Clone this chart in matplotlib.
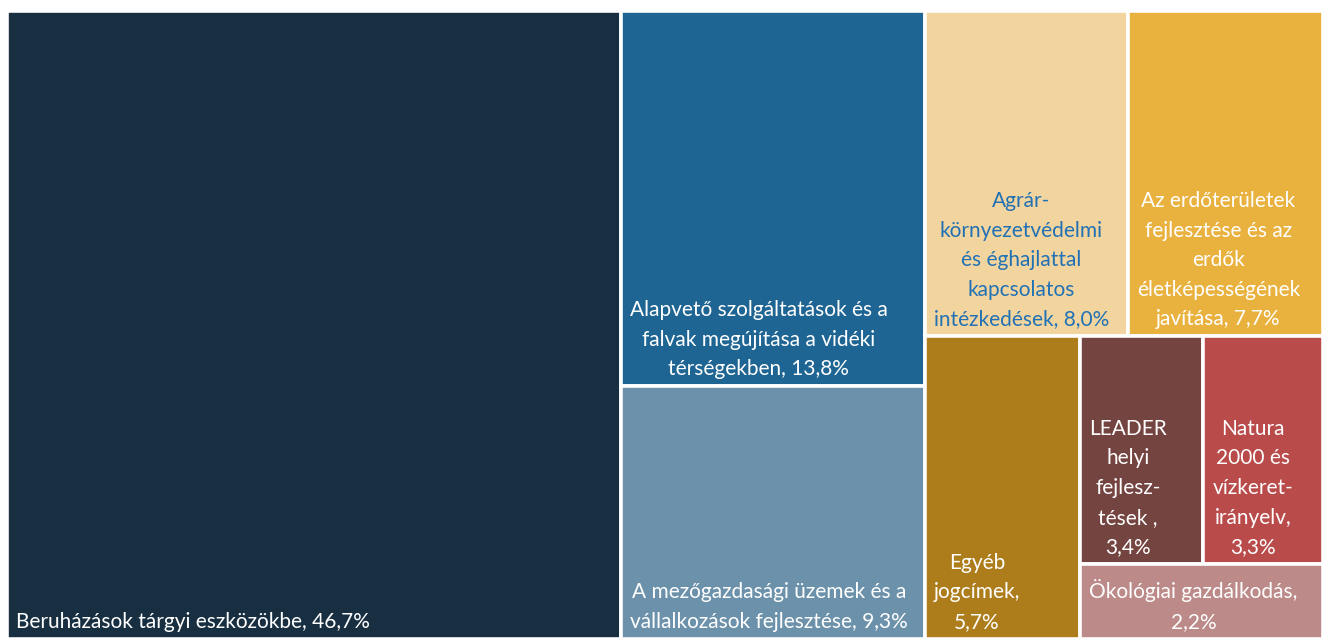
import matplotlib
matplotlib.use('Agg')
import matplotlib.pyplot as plt
from matplotlib.patches import Rectangle

# shares of the programme budget (%)
names = [
    'Beruházások tárgyi eszközökbe, 46,7%',
    'Alapvető szolgáltatások és a\nfalvak megújítása a vidéki\ntérségekben, 13,8%',
    'A mezőgazdasági üzemek és a\nvállalkozások fejlesztése, 9,3%',
    'Agrár-\nkörnyezetvédelmi\nés éghajlattal\nkapcsolatos\nintézkedések, 8,0%',
    'Az erdőterületek\nfejlesztése és az\nerdők\néletképességének\njavítása, 7,7%',
    'Egyéb\njogcímek,\n5,7%',
    'LEADER\nhelyi\nfejlesz-\ntések ,\n3,4%',
    'Natura\n2000 és\nvízkeret-\nirányelv,\n3,3%',
    'Ökológiai gazdálkodás,\n2,2%',
]
values = [46.7, 13.8, 9.3, 8.0, 7.7, 5.7, 3.4, 3.3, 2.2]
colors = ['#182F42', '#1F6593', '#6C91AA', '#F2D49E', '#E9B13D',
          '#AE7D1B', '#744440', '#BA4B4B', '#BC8A88']
text_colors = ['white', 'white', 'white', '#2171B5', 'white',
               'white', 'white', 'white', 'white']

# how the tiles are nested ('h' = side by side, 'v' = stacked)
tree = ('h', [0, ('v', [1, 2]),
              ('v', [('h', [3, 4]),
                     ('h', [5, ('v', [('h', [6, 7]), 8])])])])

W, H = 1316.0, 628.0


def total(node):
    if isinstance(node, int):
        return values[node]
    return sum(total(c) for c in node[1])


rects = {}


def layout(node, x, y, w, h):
    if isinstance(node, int):
        rects[node] = (x, y, w, h)
        return
    d, kids = node
    s = total(node)
    for k in kids:
        f = total(k) / s
        if d == 'h':
            layout(k, x, y, w * f, h)
            x += w * f
        else:
            layout(k, x, y, w, h * f)
            y += h * f


layout(tree, 0, 0, W, H)

fig = plt.figure(figsize=(13.23, 6.39), dpi=100)
ax = fig.add_axes([7 / 1323, 0, 1316 / 1323, 628 / 639])
ax.set_xlim(0, W)
ax.set_ylim(H, 0)
ax.axis('off')

for i in range(len(values)):
    x, y, w, h = rects[i]
    ax.add_patch(Rectangle((x, y), w, h, facecolor=colors[i],
                           edgecolor='white', linewidth=2.6))
    ax.text(x + 9, y + h - 7, names[i], color=text_colors[i],
            fontsize=15, family='Lato', ha='left', va='bottom',
            multialignment='center', linespacing=1.6)

fig.savefig('out.png', dpi=100)
